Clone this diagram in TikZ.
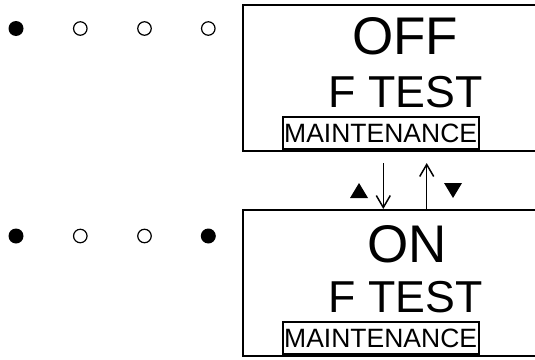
\documentclass[tikz,border=0pt]{standalone}
\usepackage{fontspec}
\setmainfont{Liberation Sans}
\usetikzlibrary{arrows.meta}
\begin{document}
\begin{tikzpicture}[x=1pt,y=-1pt,
  panel/.style={draw,line width=2pt,minimum width=303pt,minimum height=146pt,inner sep=0pt,anchor=north west},
  bigtxt/.style={font=\fontsize{53}{53}\selectfont,inner sep=0pt,anchor=base},
  midtxt/.style={font=\fontsize{44.7}{45}\selectfont,inner sep=0pt,anchor=base},
  tag/.style={draw,line width=2pt,font=\fontsize{26.5}{27}\selectfont,inner xsep=1.5pt,inner ysep=0pt,minimum height=32pt,anchor=south west},
  ledon/.style={circle,fill,minimum size=15pt,inner sep=0pt},
  ledoff/.style={circle,draw,line width=1.2pt,minimum size=13.5pt,inner sep=0pt},
  arr/.style={line width=1.5pt,-{Straight Barb[length=12pt,width=14pt]}},
  tri/.style={fill=black}]
\useasboundingbox (0,0) rectangle (535,359);
% top panel
\node[panel] (p1) at (241.7,4) {};
\node[bigtxt] (off) at (405,54) {OFF};
\node[midtxt] (ft1) at (405.5,107.5) {F TEST};
\node[tag] (m1) at (281.7,150) {MAINTENANCE};
% bottom panel
\node[panel] (p2) at (241.7,209) {};
\node[bigtxt] (on) at (407,262) {ON};
\node[midtxt] (ft2) at (405.5,312) {F TEST};
\node[tag] (m2) at (281.7,355) {MAINTENANCE};
% leds
\node[ledon] (a1) at (16,28.5) {};
\node[ledoff] (a2) at (80.3,28.5) {};
\node[ledoff] (a3) at (144.5,28.5) {};
\node[ledoff] (a4) at (208.3,28.5) {};
\node[ledon] (b1) at (16,236) {};
\node[ledoff] (b2) at (80.3,236) {};
\node[ledoff] (b3) at (144.5,236) {};
\node[ledon] (b4) at (208.3,236) {};
% arrows
\coordinate (d1) at (383.3,163);
\coordinate (u1) at (426.7,163);
\draw[arr] (d1) -- (d1 |- p2.north);
\draw[arr] (u1 |- p2.north) -- (u1);
\fill[tri] (350,198) -- (368,198) -- (359,183) -- cycle;
\fill[tri] (444,183) -- (462,183) -- (453,198) -- cycle;
\end{tikzpicture}
\end{document}
